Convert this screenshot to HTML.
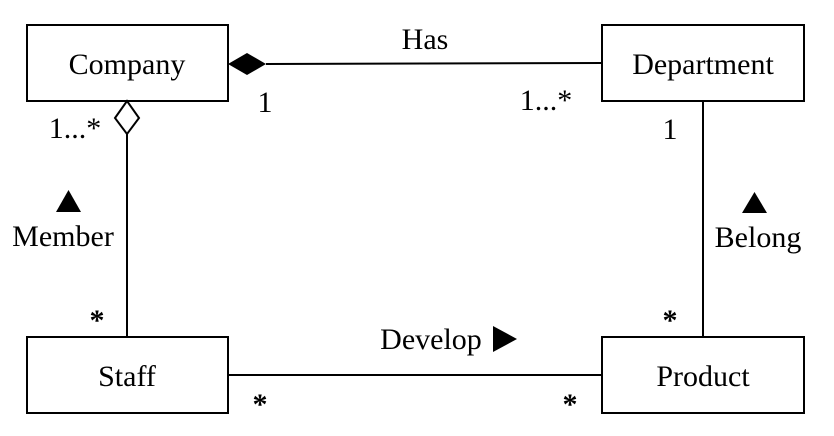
<!DOCTYPE html>
<html><head><meta charset="utf-8"><style>
html,body{margin:0;padding:0;background:#fff;}
svg{display:block;}
text{font-family:"Liberation Serif",serif;font-size:30px;fill:#000;}
.s{font-weight:bold;}
</style></head><body>
<svg width="834" height="436" viewBox="0 0 834 436" xmlns="http://www.w3.org/2000/svg">
<g fill="none" stroke="#000" stroke-width="2">
<rect x="27" y="25" width="201" height="76"/>
<rect x="602" y="25" width="202" height="76"/>
<rect x="27" y="337" width="201" height="76"/>
<rect x="602" y="337" width="202" height="76"/>
<line x1="266" y1="64" x2="602" y2="63"/>
<line x1="127" y1="134" x2="127" y2="337"/>
<line x1="703" y1="101" x2="703" y2="337"/>
<line x1="228" y1="375" x2="602" y2="375"/>
<polygon points="115,118 127,101 139,118 127,134" fill="#fff"/>
</g>
<polygon points="228,64 247,53 266,64 247,75" fill="#000"/>
<polygon points="56,212 68.5,190 81,212" fill="#000"/>
<polygon points="742,213 754.5,192 767,213" fill="#000"/>
<polygon points="493,326 493,352 517,339" fill="#000"/>
<g text-anchor="middle">
<text x="127" y="74">Company</text>
<text x="703" y="74">Department</text>
<text x="127" y="386">Staff</text>
<text x="703" y="386">Product</text>
<text x="425" y="49">Has</text>
<text x="265" y="112">1</text>
<text x="546" y="110">1...*</text>
<text x="670" y="139">1</text>
<text x="75" y="138">1...*</text>
<text x="63" y="246">Member</text>
<text x="758" y="247">Belong</text>
<text class="s" x="97" y="330">*</text>
<text class="s" x="670" y="330">*</text>
<text class="s" x="260" y="414">*</text>
<text class="s" x="570" y="414">*</text>
<text x="431" y="349">Develop</text>
</g>
</svg>
</body></html>
